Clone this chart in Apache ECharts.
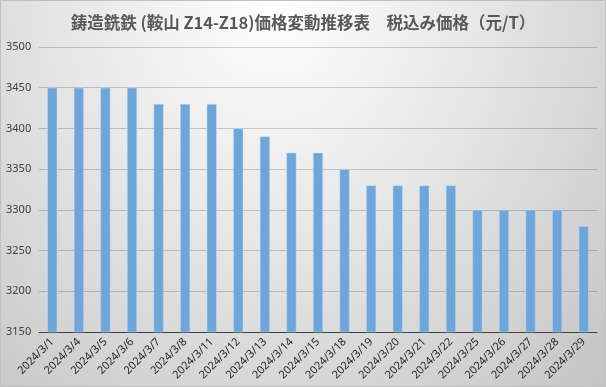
<!DOCTYPE html>
<html><head><meta charset="utf-8">
<script src="https://cdn.jsdelivr.net/npm/echarts@6/dist/echarts.min.js"></script>
<style>
html,body{margin:0;padding:0;}
#c{width:606px;height:387px;background:radial-gradient(farthest-corner at 45% 0%, #ffffff 0%, #e6e6e6 45%, #c4c4c4 100%);box-sizing:border-box;border:1px solid #c0c0c0;}
</style></head>
<body><div id="c"></div>
<script>
const titleText = '鋳造銑鉄 (鞍山 Z14-Z18)価格変動推移表　税込み価格（元/T）';
const categories = ['2024/3/1','2024/3/4','2024/3/5','2024/3/6','2024/3/7','2024/3/8','2024/3/11','2024/3/12','2024/3/13','2024/3/14','2024/3/15','2024/3/18','2024/3/19','2024/3/20','2024/3/21','2024/3/22','2024/3/25','2024/3/26','2024/3/27','2024/3/28','2024/3/29'];
const prices = [3450,3450,3450,3450,3430,3430,3430,3400,3390,3370,3370,3350,3330,3330,3330,3330,3300,3300,3300,3300,3280];
const yMin = 3150, yMax = 3500, yStep = 50;

const chart = echarts.init(document.getElementById('c'), null, {renderer:'canvas'});
chart.setOption({
  backgroundColor: 'transparent',
  animation: false,
  title: {
    text: titleText, left: 'center', top: 8,
    textStyle: {fontFamily: '"Noto Sans CJK JP", sans-serif', fontSize: 16.5, fontWeight: 'bold', color: '#595959'}
  },
  grid: {left: 38, right: 8, top: 46, bottom: 54, containLabel: false},
  xAxis: {
    type: 'category', data: categories,
    axisLine: {lineStyle: {color: '#404040', width: 1}},
    axisTick: {show: false},
    axisLabel: {rotate: 45, interval: 0, margin: 8, fontSize: 11, color: '#262626', fontFamily: '"Noto Sans", "Open Sans", sans-serif'}
  },
  yAxis: {
    type: 'value', min: yMin, max: yMax, interval: yStep,
    axisLine: {show: false}, axisTick: {show: false},
    splitLine: {lineStyle: {color: 'rgba(0,0,0,0.18)', width: 1}},
    axisLabel: {fontSize: 11, color: '#404040', margin: 33, align: 'left', formatter: v => String(v), fontFamily: '"Noto Sans", "Open Sans", sans-serif'}
  },
  series: [{
    type: 'bar', data: prices, barWidth: 10,
    itemStyle: {color: '#6fa6da', borderColor: 'rgba(200,225,245,0.9)', borderWidth: 0.5}
  }]
});
</script></body></html>
